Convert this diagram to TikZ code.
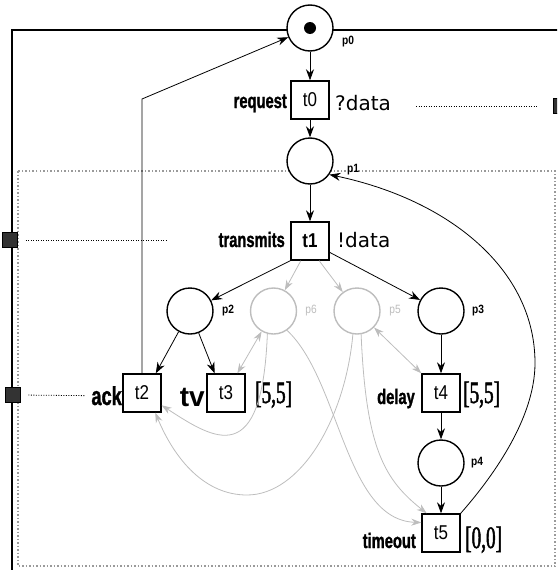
\documentclass[tikz,border=0pt]{standalone}
\usepackage{fontspec}
\usepackage{tikz}
\usetikzlibrary{arrows.meta}
\setmainfont{Liberation Sans}
\newfontfamily\narrowsans[FakeStretch=0.7,FakeBold=1.2]{Liberation Sans}
\newfontfamily\boxsans[FakeStretch=0.85]{Liberation Sans}
\newfontfamily\narrowserif[FakeStretch=0.62,FakeBold=1.5]{Liberation Serif}
\newfontfamily\msgsans{DejaVu Sans}
\definecolor{netgray}{HTML}{BDBDBD}
\definecolor{framegray}{HTML}{9A9A9A}
\definecolor{portfill}{HTML}{333333}
\tikzset{place/.style={circle,draw=black,fill=white,line width=1.4pt,
 minimum size=46pt,inner sep=0pt},
 ghostplace/.style={place,draw=netgray},
 transition/.style={rectangle,draw=black,fill=white,line width=1.4pt,
 minimum width=38pt,minimum height=38pt,inner sep=0pt,
 font=\boxsans\fontsize{20}{20}\selectfont},
 flow/.style={draw=black,line width=.8pt,-{Stealth[length=11pt,width=8pt]}},
 ghostflow/.style={draw=netgray,line width=.8pt,-{Stealth[length=10pt,width=7pt]}},
 ghostboth/.style={ghostflow,{Stealth[length=10pt,width=7pt]}-{Stealth[length=10pt,width=7pt]}},
 action/.style={font=\narrowsans\bfseries\fontsize{21}{21}\selectfont,inner sep=0pt},
 message/.style={font=\msgsans\fontsize{20}{20}\selectfont,inner sep=0pt},
 interval/.style={font=\narrowserif\fontsize{31}{31}\selectfont,inner sep=0pt},
 pname/.style={font=\boxsans\bfseries\fontsize{12}{12}\selectfont,inner sep=0pt},
 ghostname/.style={pname,text=netgray,font=\boxsans\fontsize{12}{12}\selectfont},
 port/.style={rectangle,draw=black,fill=portfill,line width=.8pt,
 minimum size=15pt,inner sep=0pt},
 link/.style={draw=black,line width=.8pt,dash pattern=on 1pt off 1.5pt}}

\begin{document}
\begin{tikzpicture}[x=1pt,y=-1pt]
 \clip (0,0) rectangle (557,570);
 % frames
 \draw[line width=1.5pt] (570,30) -- (12,30) -- (12,580);
 \draw[framegray,line width=1.8pt,dash pattern=on 1.5pt off 2pt] (18,171) rectangle (555,566);
 % places
 \node[place] (p0) at (310,28) {};
 \node[circle,fill=black,minimum size=12pt,inner sep=0pt] (token) at (p0) {};
 \node[place] (p1) at (310,161) {};
 \node[place] (p2) at (190,311) {};
 \node[ghostplace] (p6) at (273.5,311) {};
 \node[ghostplace] (p5) at (357,311) {};
 \node[place] (p3) at (441,311) {};
 \node[place] (p4) at (441,463) {};
 \node[pname] (p0lbl) at (348,42) {p0};
 \node[pname] (p1lbl) at (353,170) {p1};
 \node[pname] (p2lbl) at (228,311) {p2};
 \node[ghostname] (p6lbl) at (311,311) {p6};
 \node[ghostname] (p5lbl) at (395,311) {p5};
 \node[pname] (p3lbl) at (478,311) {p3};
 \node[pname] (p4lbl) at (477,463) {p4};
 % transitions
 \node[transition] (t0) at (310,100) {t0};
 \node[transition,font=\boxsans\bfseries\fontsize{20}{20}\selectfont] (t1) at (310,241) {t1};
 \node[transition] (t2) at (142,393) {t2};
 \node[transition] (t3) at (226,393) {t3};
 \node[transition] (t4) at (441,393) {t4};
 \node[transition] (t5) at (441,533) {t5};
 % labels
 \node[action,anchor=base east] (t0name) at (287,108) {request};
 \node[message,anchor=base west] (t0msg) at (335,110) {?data};
 \node[action,anchor=base east] (t1name) at (285,247) {transmits};
 \node[message,anchor=base west] (t1msg) at (337,247) {!data};
 \node[action,anchor=base east,font=\narrowsans\bfseries\fontsize{26}{26}\selectfont] (t2name) at (122,405) {ack};
 \node[anchor=base east,inner sep=0pt,font=\bfseries\fontsize{28}{28}\selectfont] (t3name) at (205,406) {tv};
 \node[interval,anchor=base west] (t3int) at (255,403) {[5,5]};
 \node[action,anchor=base east] (t4name) at (415,404) {delay};
 \node[interval,anchor=base west] (t4int) at (463,403) {[5,5]};
 \node[action,anchor=base east] (t5name) at (416,548) {timeout};
 \node[interval,anchor=base west] (t5int) at (465,548) {[0,0]};
 % ports
 \node[port] (portin) at (561,106) {};
 \node[port] (porttx) at (10,240) {};
 \node[port] (portack) at (12.5,395) {};
 \coordinate (inlink) at (416,106);
 \coordinate (txlink) at (168,240);
 \draw[link,shorten >=17pt] (inlink) -- (portin.west);
 \draw[link,shorten <=8pt] (porttx.east) -- (txlink);
 \draw[link,shorten <=8pt,shorten >=6pt] (portack.east) -- (t2name.west);
 % arcs
 \draw[flow] (p0) -- (t0);
 \draw[flow] (t0) -- (p1);
 \draw[flow] (p1) -- (t1);
 \draw[flow] (t1.south west) -- (p2);
 \draw[flow] (t1.-30) -- (p3);
 \draw[ghostflow] (t1.-115) -- (p6);
 \draw[ghostflow] (t1.-65) -- (p5);
 \draw[flow] (p2) -- (t2.55);
 \draw[flow] (p2) -- (t3.120);
 \draw[flow] (p3) -- (t4);
 \draw[flow] (t4) -- (p4);
 \draw[flow] (p4) -- (t5);
 \draw[ghostboth] (p6) -- (t3.60);
 \draw[ghostboth] (p5) -- (t4.135);
 \draw[ghostflow] (p6.-105) .. controls (262,470) and (215,440) .. (t2.-32);
 \draw[ghostflow] (p5.-100) .. controls (345,420) and (300,495) .. (247,495)
  .. controls (205,495) and (175,460) .. (t2.-56);
 \draw[ghostflow] (p6.-55) .. controls (340,380) and (345,520) .. (t5.152);
 \draw[ghostflow] (p5.-80) .. controls (366,450) and (385,480) .. (t5.126);
 \coordinate (ackbend) at (142,99);
 \draw[flow] (t2.north) -- (ackbend) -- (p0);
 \draw[flow] (t5.north east) .. controls (490,480) and (535,420) .. (535,363)
  .. controls (535,270) and (450,200) .. (p1.-35);
\end{tikzpicture}
\end{document}
